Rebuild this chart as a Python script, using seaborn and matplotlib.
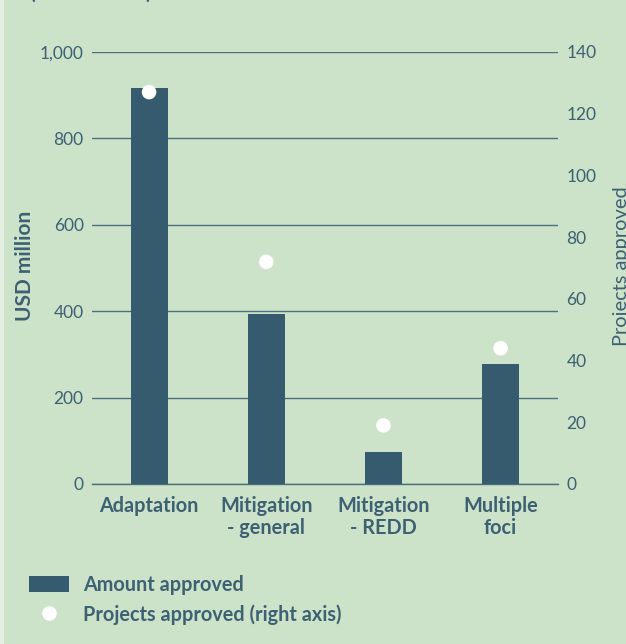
import matplotlib
matplotlib.use("Agg")
import matplotlib.pyplot as plt
import seaborn as sns
import pandas as pd
from matplotlib.patches import Patch, Rectangle
from matplotlib.lines import Line2D

# Approved amounts and project counts by focal area
categories = ["Adaptation", "Mitigation\n- general", "Mitigation\n- REDD", "Multiple\nfoci"]
amount_usd_million = [916, 393, 73, 277]
projects_approved = [127, 72, 19, 44]
left_ticks = [0, 200, 400, 600, 800, 1000]
left_tick_labels = ["0", "200", "400", "600", "800", "1,000"]
right_ticks = [0, 20, 40, 60, 80, 100, 120, 140]

BG = "#cce2c9"
BAR = "#365b6f"
TEXT = "#3d6073"
GRID = "#4d6e7a"

sns.set_theme(style="white")
plt.rcParams["font.family"] = ["Lato", "DejaVu Sans"]

df = pd.DataFrame({"category": categories,
                   "amount": amount_usd_million,
                   "projects": projects_approved})

fig = plt.figure(figsize=(6.26, 6.44), dpi=100, facecolor=BG)
ax = fig.add_axes([92 / 626, 1 - 484 / 644, (558 - 92) / 626, (484 - 52) / 644])
ax.set_facecolor("none")

sns.barplot(data=df, x="category", y="amount", color=BAR, width=0.316,
            saturation=1, linewidth=0, edgecolor=BAR, ax=ax, zorder=3)
ax.set_ylim(0, 1000)
ax.set_xlim(-0.487, 3.49)
ax.set_yticks(left_ticks)
ax.set_yticklabels(left_tick_labels)
ax.grid(axis="y", color=GRID, linewidth=1.0, zorder=0)
ax.set_axisbelow(True)
for side in ["top", "right", "left"]:
    ax.spines[side].set_visible(False)
ax.spines["bottom"].set_color(GRID)
ax.spines["bottom"].set_linewidth(1.0)
ax.tick_params(axis="y", length=0, pad=6, labelsize=12.5, labelcolor=TEXT)
ax.tick_params(axis="x", length=0, pad=9, labelsize=14.3, labelcolor=TEXT)
for lbl in ax.get_xticklabels():
    lbl.set_fontweight("bold")
    lbl.set_linespacing(1.08)
ax.set_xlabel("")
ax.set_ylabel("")

ax2 = ax.twinx()
ax2.set_facecolor("none")
sns.scatterplot(data=df, x="category", y="projects", ax=ax2, color="white",
                s=110, edgecolor="none", zorder=5, legend=False)
ax2.set_ylim(0, 140)
ax2.set_xlim(-0.487, 3.49)
ax2.set_yticks(right_ticks)
ax2.tick_params(axis="y", length=0, pad=6, labelsize=12.5, labelcolor=TEXT)
for side in ["top", "right", "left", "bottom"]:
    ax2.spines[side].set_visible(False)
ax2.set_ylabel("")
ax2.set_xlabel("")

# Axis titles
fig.text(25 / 626, 1 - 266 / 644, "USD million", rotation=90, ha="center",
         va="center", fontsize=15, fontweight="bold", color=TEXT)
fig.text(621 / 626, 1 - 266 / 644, "Projects approved", rotation=90,
         ha="center", va="center", fontsize=14.4, color=TEXT)

# Heading running off the top edge
fig.text(30 / 626, 1 + 1.5 / 644, "(USD million)", ha="left", va="baseline",
         fontsize=15, fontweight="bold", color=TEXT)

# Page edge strip
fig.patches.append(Rectangle((0, 0), 4 / 626, 1, transform=fig.transFigure,
                             facecolor="#e4efe2", edgecolor="none", zorder=-1))

handles = [
    Patch(facecolor=BAR, edgecolor="none", label="Amount approved"),
    Line2D([], [], marker="o", linestyle="none", markersize=10.5,
           markerfacecolor="white", markeredgecolor="none",
           label="Projects approved (right axis)"),
]
leg = fig.legend(handles=handles, loc="upper left",
                 bbox_to_anchor=(29 / 626, 1 - 575 / 644), frameon=False,
                 fontsize=14.3, handlelength=2.0, handleheight=0.85,
                 handletextpad=0.7, labelspacing=0.45, borderpad=0,
                 borderaxespad=0)
for t in leg.get_texts():
    t.set_color(TEXT)
    t.set_fontweight("bold")

fig.savefig("out.png", dpi=100, facecolor=BG)
